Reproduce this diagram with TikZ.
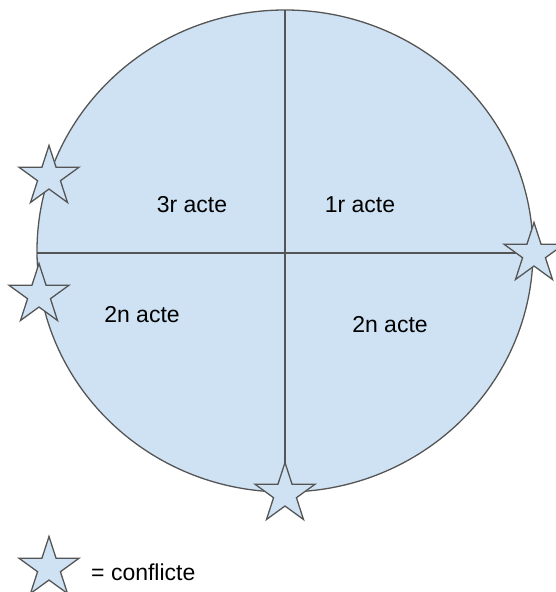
\documentclass[tikz,border=0pt]{standalone}
\usepackage{fontspec}
\setmainfont{Liberation Sans}
\usetikzlibrary{shapes.geometric}
\definecolor{fillblue}{HTML}{CFE2F3}
\definecolor{edgegray}{HTML}{555555}
\tikzset{
  conflictstar/.style={star, star points=5, star point ratio=2.618, minimum size=63pt, inner sep=0pt, draw=edgegray, fill=fillblue, line width=1.3pt},
  acttext/.style={font=\fontsize{23}{27}\selectfont, text=black, inner sep=0pt},
}
\begin{document}
\begin{tikzpicture}[x=1pt,y=-1pt]
\useasboundingbox (0,0) rectangle (556,592);
\node[ellipse, draw=edgegray, fill=fillblue, line width=1.3pt, minimum width=496pt, minimum height=482pt, inner sep=0pt] (c) at (285,251) {};
\coordinate (t) at (285,10);
\coordinate (b) at (285,492);
\coordinate (l) at (37,253);
\coordinate (r) at (533,253);
\draw[edgegray, line width=1.3pt] (t) -- (b);
\draw[edgegray, line width=1.3pt] (l) -- (r);
\node[acttext] (a3) at (192,205) {3r acte};
\node[acttext] (a1) at (360,205) {1r acte};
\node[acttext] (a2l) at (142,315) {2n acte};
\node[acttext] (a2r) at (390,325) {2n acte};
\node[conflictstar] (s1) at (49,177) {};
\node[conflictstar] (s2) at (39,295) {};
\node[conflictstar] (s3) at (534,254) {};
\node[conflictstar] (s4) at (285,494) {};
\node[conflictstar] (s5) at (49,568) {};
\node[acttext, anchor=west] (leg) at (91,572) {= conflicte};
\end{tikzpicture}
\end{document}
